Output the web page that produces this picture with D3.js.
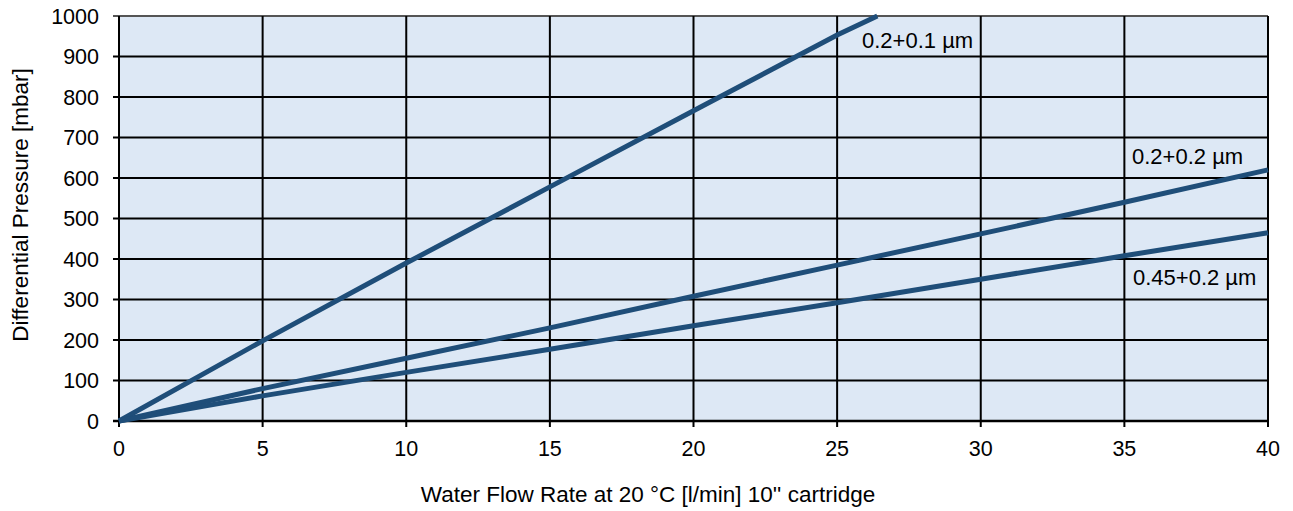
<!DOCTYPE html>
<html>
<head>
<meta charset="utf-8">
<script src="https://cdn.jsdelivr.net/npm/d3@7"></script>
<style>
  body { margin: 0; background: #fff; }
  text { font-family: "Liberation Sans", Arial, sans-serif; fill: #000; }
</style>
</head>
<body>
<script>
var xTicks = [0, 5, 10, 15, 20, 25, 30, 35, 40];
var yTicks = [0, 100, 200, 300, 400, 500, 600, 700, 800, 900, 1000];

var flow01 = [0, 5, 10, 15, 20, 25, 26.4];
var dp01 = [0, 198, 390, 578, 766, 953, 1000];

var flow02 = [0, 5, 10, 15, 20, 25, 30, 35, 40];
var dp02 = [0, 80, 155, 230, 308, 385, 462, 540, 620];

var flow045 = [0, 5, 10, 15, 20, 25, 30, 35, 40];
var dp045 = [0, 62, 120, 177, 235, 292, 350, 408, 465];

var seriesNames = ['0.2+0.1 µm', '0.2+0.2 µm', '0.45+0.2 µm'];

var width = 1293, height = 511;
var margin = { left: 119, right: 25, top: 16, bottom: 90 };

var svg = d3.select('body').append('svg')
  .attr('width', width)
  .attr('height', height);

var x = d3.scaleLinear().domain([0, 40]).range([margin.left, width - margin.right]);
var y = d3.scaleLinear().domain([0, 1000]).range([height - margin.bottom, margin.top]);

svg.append('rect')
  .attr('x', x(0)).attr('y', y(1000))
  .attr('width', x(40) - x(0)).attr('height', y(0) - y(1000))
  .style('fill', '#dde8f5');

// grid
svg.append('g').selectAll('line')
  .data(yTicks.slice(1))
  .enter().append('line')
    .attr('x1', x(0) - 6).attr('x2', x(40))
    .attr('y1', function(d){ return y(d); })
    .attr('y2', function(d){ return y(d); })
    .style('stroke', function(d){ return d === 1000 ? '#555' : '#000'; })
    .style('stroke-width', 2);

svg.append('g').selectAll('line')
  .data(xTicks.slice(1))
  .enter().append('line')
    .attr('x1', function(d){ return x(d); })
    .attr('x2', function(d){ return x(d); })
    .attr('y1', y(1000)).attr('y2', y(0) + 6)
    .style('stroke', '#000')
    .style('stroke-width', 2);

// axes lines
svg.append('line')
  .attr('x1', x(0)).attr('x2', x(0))
  .attr('y1', y(1000)).attr('y2', y(0) + 6)
  .style('stroke', '#000').style('stroke-width', 2);
svg.append('line')
  .attr('x1', x(0) - 6).attr('x2', x(40))
  .attr('y1', y(0)).attr('y2', y(0))
  .style('stroke', '#000').style('stroke-width', 2.5);

// tick labels
svg.append('g').selectAll('text')
  .data(yTicks)
  .enter().append('text')
    .attr('x', 99)
    .attr('y', function(d){ return y(d); })
    .attr('dy', '0.35em')
    .attr('text-anchor', 'end')
    .style('font-size', '21.5px')
    .text(function(d){ return d; });

svg.append('g').selectAll('text')
  .data(xTicks)
  .enter().append('text')
    .attr('x', function(d){ return x(d); })
    .attr('y', 456)
    .attr('text-anchor', 'middle')
    .style('font-size', '21.5px')
    .text(function(d){ return d; });

// axis titles
svg.append('text')
  .attr('x', 648).attr('y', 502)
  .attr('text-anchor', 'middle')
  .style('font-size', '22.5px')
  .text("Water Flow Rate at 20 °C [l/min] 10'' cartridge");

svg.append('text')
  .attr('transform', 'translate(28,205) rotate(-90)')
  .attr('text-anchor', 'middle')
  .style('font-size', '22.5px')
  .text('Differential Pressure [mbar]');

// curves
var line = d3.line()
  .x(function(d){ return x(d[0]); })
  .y(function(d){ return y(d[1]); });

var series = [d3.zip(flow01, dp01), d3.zip(flow02, dp02), d3.zip(flow045, dp045)];

svg.append('g').selectAll('path')
  .data(series)
  .enter().append('path')
    .attr('d', line)
    .style('fill', 'none')
    .style('stroke', '#1f4e79')
    .style('stroke-width', 5)
    .style('stroke-linecap', 'butt');

// series labels
var labelPos = [[862, 48], [1132, 164], [1133, 285]];
svg.append('g').selectAll('text')
  .data(seriesNames)
  .enter().append('text')
    .attr('x', function(d, i){ return labelPos[i][0]; })
    .attr('y', function(d, i){ return labelPos[i][1]; })
    .style('font-size', '22px')
    .text(function(d){ return d; });
</script>
</body>
</html>
